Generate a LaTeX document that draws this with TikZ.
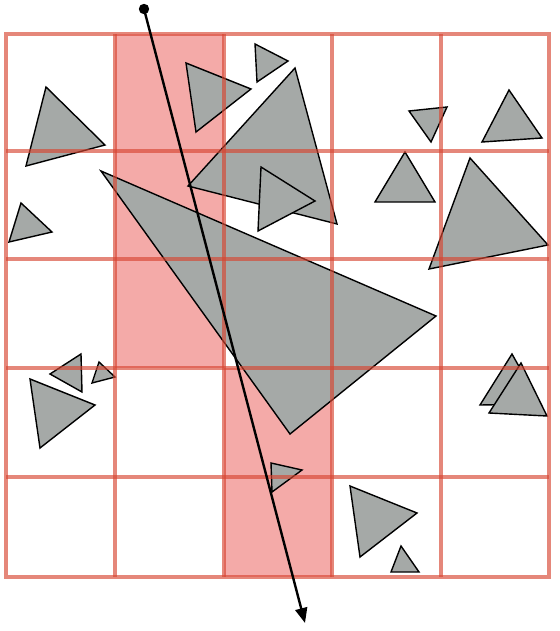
\documentclass[tikz,border=0pt]{standalone}
\usetikzlibrary{arrows.meta}
\definecolor{cellfill}{HTML}{F4AAA8}
\definecolor{gridred}{RGB}{215,70,50}
\definecolor{trigray}{HTML}{A5A9A7}
\tikzset{
  tri/.style={fill=trigray,draw=black,line width=1.4pt,line join=miter},
  gridline/.style={draw=gridred,draw opacity=0.65,line width=3.4pt},
  frameline/.style={draw=gridred,draw opacity=0.65,line width=4.4pt},
  ray/.style={draw=black,line width=2.4pt,-{Triangle[length=15pt,width=12pt]}}
}
\begin{document}
\begin{tikzpicture}[x=1pt,y=-1pt]
\useasboundingbox (0,0) rectangle (559,631);
% shaded cells
\fill[cellfill] (115,34) rectangle (224,368);
\fill[cellfill] (224,368) rectangle (332,577);
% triangles
\filldraw[tri] (46,87) -- (105,145) -- (26,166) -- cycle;
\filldraw[tri] (186,63) -- (251,89) -- (196,132) -- cycle;
\filldraw[tri] (255,44) -- (288,61) -- (257,82) -- cycle;
\filldraw[tri] (295,68) -- (337,224) -- (188,186) -- cycle;
\filldraw[tri] (261,167) -- (315,201) -- (258,231) -- cycle;
\filldraw[tri] (101,171) -- (436,316) -- (290,434) -- cycle;
\filldraw[tri] (21,203) -- (52,232) -- (9,242) -- cycle;
\filldraw[tri] (409,111) -- (447,107) -- (431,142) -- cycle;
\filldraw[tri] (509,90) -- (542,138) -- (482,142) -- cycle;
\filldraw[tri] (405,152) -- (435,202) -- (375,202) -- cycle;
\filldraw[tri] (470,158) -- (548,245) -- (429,269) -- cycle;
\filldraw[tri] (81,354) -- (82,392) -- (50,374) -- cycle;
\filldraw[tri] (99,362) -- (115,377) -- (92,383) -- cycle;
\filldraw[tri] (30,379) -- (95,405) -- (40,448) -- cycle;
\filldraw[tri] (512,354) -- (540,404) -- (480,405) -- cycle;
\filldraw[tri] (521,363) -- (547,416) -- (489,413) -- cycle;
\filldraw[tri] (271,463) -- (302,470) -- (272,492) -- cycle;
\filldraw[tri] (350,486) -- (417,513) -- (360,557) -- cycle;
\filldraw[tri] (401,546) -- (419,572) -- (391,572) -- cycle;
% grid
\foreach \x in {115,224,332,441} \draw[gridline] (\x,34) -- (\x,577);
\foreach \y in {151,259,368,477} \draw[gridline] (6,\y) -- (549,\y);
\draw[frameline] (6,34) rectangle (549,577);
% ray
\coordinate (src) at (144,9);
\coordinate (dst) at (305,623);
\fill[black] (src) circle (5.2);
\draw[ray] (src) -- (dst);
\end{tikzpicture}
\end{document}
